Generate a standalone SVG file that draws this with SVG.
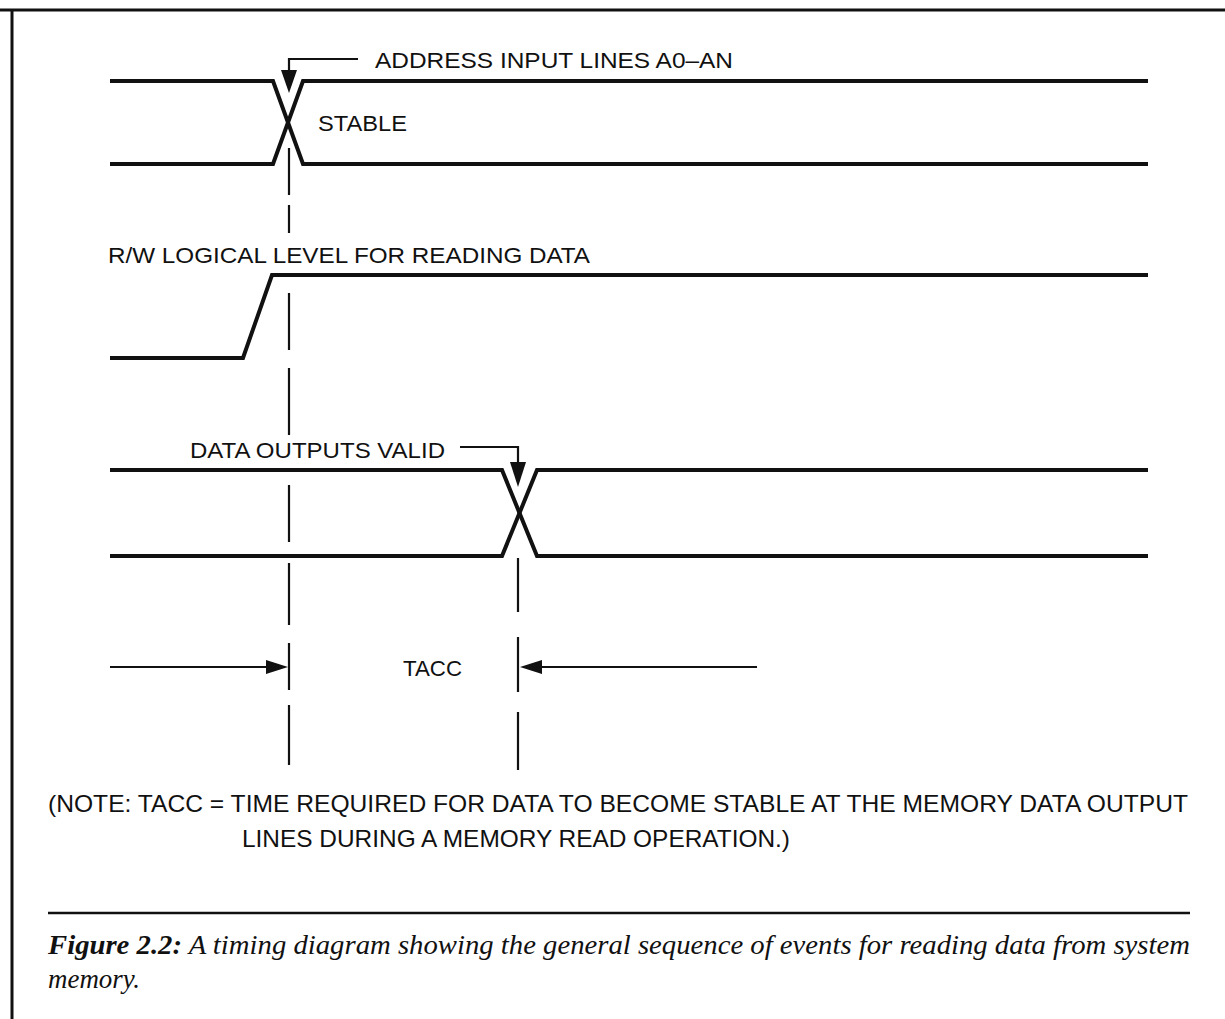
<svg xmlns="http://www.w3.org/2000/svg" width="1225" height="1019" viewBox="0 0 1225 1019">
<style>
.sig{fill:none;stroke:#111;stroke-width:4;stroke-linejoin:miter}
.dash{fill:none;stroke:#111;stroke-width:2.2}
.frame{fill:none;stroke:#111;stroke-width:3}
.ah{fill:#111}
.lbl{font-family:"Liberation Sans",Arial,sans-serif;font-size:22px;fill:#111}
.note{font-family:"Liberation Sans",Arial,sans-serif;font-size:24px;fill:#111}
.cap{font-family:"Liberation Serif","Times New Roman",serif;font-size:27px;font-style:italic;fill:#111}
</style>
<rect width="1225" height="1019" fill="#fff"/>
<g id="frame">
<line class="frame" x1="0" y1="10" x2="1225" y2="10"/>
<line class="frame" x1="12" y1="10" x2="12" y2="1019"/>
</g>
<g id="address">
<path class="sig" d="M110,81 H273 L303,164 H1148"/>
<path class="sig" d="M110,164 H273 L303,81 H1148"/>
<text class="lbl" x="375" y="68" textLength="358" lengthAdjust="spacingAndGlyphs">ADDRESS INPUT LINES A0–AN</text>
<text class="lbl" x="318" y="131" textLength="89" lengthAdjust="spacingAndGlyphs">STABLE</text>
</g>
<g id="rw">
<path class="sig" d="M110,358 H243 L272,275 H1148"/>
<text class="lbl" x="108" y="263" textLength="482" lengthAdjust="spacingAndGlyphs">R/W LOGICAL LEVEL FOR READING DATA</text>
</g>
<g id="data">
<path class="sig" d="M110,470 H502 L537,556 H1148"/>
<path class="sig" d="M110,556 H502 L537,470 H1148"/>
<text class="lbl" x="190" y="458" textLength="255" lengthAdjust="spacingAndGlyphs">DATA OUTPUTS VALID</text>
</g>
<g id="tacc">
<text class="lbl" x="403" y="676" textLength="59" lengthAdjust="spacingAndGlyphs">TACC</text>
</g>
<g id="connectors">
<path class="dash" d="M289,148 V195 M289,205 V233 M289,293 V350 M289,368 V435 M289,485 V542 M289,563 V625 M289,643 V690 M289,705 V765"/>
<path class="dash" d="M518,558 V612 M518,637 V692 M518,712 V770"/>
<path class="dash" d="M358,59 H289 V72"/>
<polygon class="ah" points="281,70 297,70 289,93"/>
<path class="dash" d="M460,447 H518 V464"/>
<polygon class="ah" points="510,462 526,462 518,487"/>
<line class="dash" x1="110" y1="667" x2="270" y2="667"/>
<polygon class="ah" points="266,660 266,674 288,667"/>
<line class="dash" x1="538" y1="667" x2="757" y2="667"/>
<polygon class="ah" points="542,660 542,674 520,667"/>
</g>
<g id="note">
<text class="note" x="48" y="812" textLength="1140" lengthAdjust="spacingAndGlyphs">(NOTE: TACC = TIME REQUIRED FOR DATA TO BECOME STABLE AT THE MEMORY DATA OUTPUT</text>
<text class="note" x="242" y="847" textLength="548" lengthAdjust="spacingAndGlyphs">LINES DURING A MEMORY READ OPERATION.)</text>
</g>
<g id="caption">
<line x1="48" y1="913" x2="1190" y2="913" stroke="#111" stroke-width="2.5"/>
<text class="cap" x="48" y="954" textLength="1142" lengthAdjust="spacingAndGlyphs"><tspan font-weight="bold">Figure 2.2:</tspan> A timing diagram showing the general sequence of events for reading data from system</text>
<text class="cap" x="48" y="988" textLength="92" lengthAdjust="spacingAndGlyphs">memory.</text>
</g>
</svg>
